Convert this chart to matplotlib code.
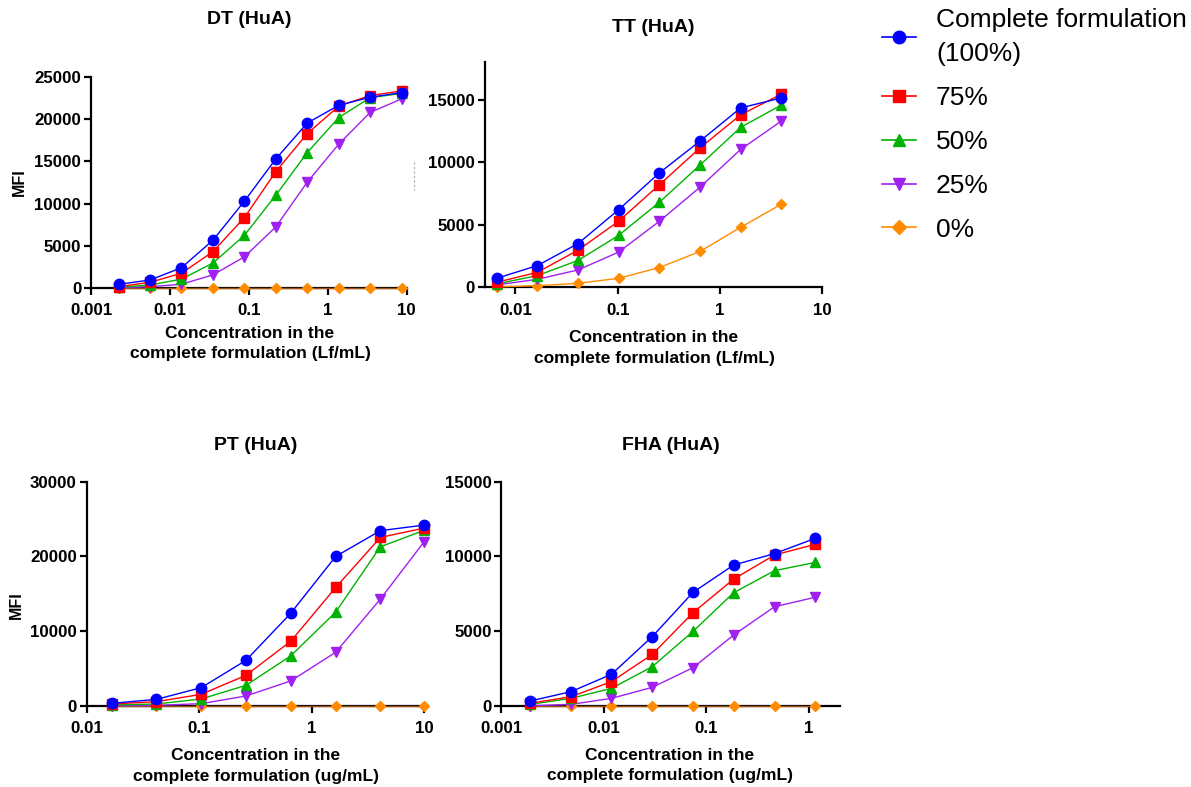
import matplotlib
matplotlib.use("Agg")
import matplotlib.pyplot as plt
from matplotlib.lines import Line2D
from matplotlib.ticker import FixedLocator, FixedFormatter, NullLocator

plt.rcParams['font.family'] = ['Liberation Sans', 'DejaVu Sans']

# ---------------- data ----------------
series_labels = ["Complete formulation\n(100%)", "75%", "50%", "25%", "0%"]

dt_x = [0.00225, 0.0056, 0.014, 0.035, 0.088, 0.22, 0.55, 1.38, 3.44, 8.6]
dt_100 = [430, 950, 2400, 5650, 10300, 15300, 19550, 21650, 22600, 23150]
dt_75 = [160, 670, 1750, 4300, 8350, 13800, 18300, 21550, 22800, 23350]
dt_50 = [80, 350, 1050, 2950, 6250, 11000, 16050, 20200, 22550, 23050]
dt_25 = [40, 150, 450, 1550, 3700, 7250, 12550, 17050, 20800, 22400]
dt_0 = [20, 20, 20, 20, 20, 20, 20, 20, 20, 20]

tt_x = [0.00655, 0.0164, 0.041, 0.102, 0.256, 0.64, 1.6, 4.0]
tt_100 = [720, 1740, 3500, 6200, 9150, 11700, 14350, 15150]
tt_75 = [400, 1200, 2970, 5280, 8200, 11150, 13800, 15450]
tt_50 = [270, 940, 2150, 4150, 6800, 9780, 12800, 14580]
tt_25 = [190, 640, 1390, 2810, 5280, 8010, 11030, 13300]
tt_0 = [30, 130, 320, 720, 1580, 2870, 4800, 6650]

pt_x = [0.0167, 0.0417, 0.104, 0.26, 0.65, 1.63, 4.07, 10.0]
pt_100 = [360, 890, 2450, 6100, 12400, 20000, 23450, 24200]
pt_75 = [270, 580, 1560, 4100, 8650, 15850, 22550, 23800]
pt_50 = [130, 270, 940, 2760, 6700, 12550, 21300, 23500]
pt_25 = [45, 90, 310, 1340, 3350, 7180, 14300, 22000]
pt_0 = [30, 30, 30, 30, 30, 30, 30, 30]

fha_x = [0.0019, 0.0048, 0.0119, 0.0298, 0.0745, 0.186, 0.466, 1.16]
fha_100 = [330, 960, 2120, 4640, 7600, 9430, 10190, 11210]
fha_75 = [180, 620, 1630, 3450, 6240, 8490, 10100, 10810]
fha_50 = [110, 510, 1180, 2630, 4990, 7580, 9050, 9600]
fha_25 = [20, 110, 510, 1250, 2560, 4750, 6640, 7270]
fha_0 = [15, 15, 15, 15, 15, 15, 15, 15]

dt_xticks = [0.001, 0.01, 0.1, 1, 10]
dt_xticklabels = ["0.001", "0.01", "0.1", "1", "10"]
dt_yticks = [0, 5000, 10000, 15000, 20000, 25000]
tt_xticks = [0.01, 0.1, 1, 10]
tt_xticklabels = ["0.01", "0.1", "1", "10"]
tt_yticks = [0, 5000, 10000, 15000]
pt_xticks = [0.01, 0.1, 1, 10]
pt_xticklabels = ["0.01", "0.1", "1", "10"]
pt_yticks = [0, 10000, 20000, 30000]
fha_xticks = [0.001, 0.01, 0.1, 1]
fha_xticklabels = ["0.001", "0.01", "0.1", "1"]
fha_yticks = [0, 5000, 10000, 15000]

# ---------------- style ----------------
colors = ["#0000ff", "#ff0000", "#00b300", "#a020f0", "#ff8c00"]
markers = ["o", "s", "^", "v", "D"]
msizes = [7.5, 7.0, 7.5, 7.5, 5.5]

W, H = 1191, 787
fig = plt.figure(figsize=(W / 100, H / 100), dpi=100)


def px_axes(l, t, r, b):
    return fig.add_axes([l / W, 1 - b / H, (r - l) / W, (b - t) / H])


panels = [
    dict(rect=(91, 77, 406.7, 288), x=dt_x,
         ys=[dt_100, dt_75, dt_50, dt_25, dt_0], xlim=(0.001, 10), ylim=(0, 25000),
         xt=dt_xticks, xtl=dt_xticklabels, yt=dt_yticks, title="DT (HuA)", tpos=(249, 20),
         xl="Concentration in the\ncomplete formulation (Lf/mL)", xlpos=(250, 343.5),
         mfi=(19, 182), zero=True),
    dict(rect=(484.7, 62.3, 822, 287.3), x=tt_x,
         ys=[tt_100, tt_75, tt_50, tt_25, tt_0], xlim=(0.005, 10), ylim=(0, 18000),
         xt=tt_xticks, xtl=tt_xticklabels, yt=tt_yticks, title="TT (HuA)", tpos=(653, 27),
         xl="Concentration in the\ncomplete formulation (Lf/mL)", xlpos=(654, 348),
         mfi=None, zero=False),
    dict(rect=(86.7, 481.7, 424.3, 706), x=pt_x,
         ys=[pt_100, pt_75, pt_50, pt_25, pt_0], xlim=(0.01, 10), ylim=(0, 30000),
         xt=pt_xticks, xtl=pt_xticklabels, yt=pt_yticks, title="PT (HuA)", tpos=(256, 445),
         xl="Concentration in the\ncomplete formulation (ug/mL)", xlpos=(256, 766),
         mfi=(16, 605), zero=True),
    dict(rect=(501.3, 481.7, 840, 706), x=fha_x,
         ys=[fha_100, fha_75, fha_50, fha_25, fha_0], xlim=(0.001, 2.03), ylim=(0, 15000),
         xt=fha_xticks, xtl=fha_xticklabels, yt=fha_yticks, title="FHA (HuA)", tpos=(671, 446),
         xl="Concentration in the\ncomplete formulation (ug/mL)", xlpos=(670, 765.5),
         mfi=None, zero=True),
]

for p in panels:
    ax = px_axes(*p["rect"])
    for i in reversed(range(5)):
        c = colors[i]
        lc = c
        if i == 4 and p["zero"]:
            lc = "#a0520f"
        ax.plot(p["x"], p["ys"][i], color=lc, lw=1.0, marker=markers[i],
                ms=msizes[i], mfc=c, mec=c, zorder=3 + (4 - i), clip_on=False)
    ax.set_xscale("log")
    ax.set_xlim(*p["xlim"])
    ax.set_ylim(*p["ylim"])
    ax.xaxis.set_major_locator(FixedLocator(p["xt"]))
    ax.xaxis.set_major_formatter(FixedFormatter(p["xtl"]))
    ax.xaxis.set_minor_locator(NullLocator())
    ax.set_yticks(p["yt"])
    ax.set_yticklabels([str(v) for v in p["yt"]])
    for s in ["top", "right"]:
        ax.spines[s].set_visible(False)
    for s in ["left", "bottom"]:
        ax.spines[s].set_linewidth(1.6)
        ax.spines[s].set_zorder(2)
    ax.tick_params(axis="both", which="major", length=5, width=1.6, labelsize=12.2,
                   direction="out")
    ax.tick_params(axis="x", pad=6)
    ax.tick_params(axis="y", pad=2)
    for lab in ax.get_xticklabels() + ax.get_yticklabels():
        lab.set_fontweight("bold")
    ax.patch.set_visible(False)
    fig.text(p["tpos"][0] / W, 1 - p["tpos"][1] / H, p["title"], ha="center", va="center",
             fontsize=14, fontweight="bold")
    fig.text(p["xlpos"][0] / W, 1 - p["xlpos"][1] / H, p["xl"], ha="center", va="center",
             fontsize=12.5, fontweight="bold", linespacing=1.45)
    if p["mfi"] is not None:
        fig.text(p["mfi"][0] / W, 1 - p["mfi"][1] / H, "MFI", ha="center", va="center",
                 rotation=90, fontsize=11.5, fontweight="bold")

# legend
leg_handles = [Line2D([0], [0], color=colors[i], lw=1.2, marker=markers[i], ms=msizes[i] + 1.5,
                      mfc=colors[i], mec=colors[i]) for i in range(5)]
leg = fig.legend(leg_handles, series_labels, loc="upper left",
                 bbox_to_anchor=(882 / W, 1 - 8 / H), frameon=False, fontsize=19,
                 handlelength=1.3, handletextpad=0.75, labelspacing=0.75, borderpad=0.0,
                 borderaxespad=0.0)
for t in leg.get_texts():
    t.set_linespacing(1.55)

# small grey dashed artefact
fig.add_artist(Line2D([414 / W, 414 / W], [1 - 162 / H, 1 - 190 / H], color="#aaaaaa",
                      lw=0.8, ls=(0, (2, 2))))

fig.savefig("out.png", dpi=100)
